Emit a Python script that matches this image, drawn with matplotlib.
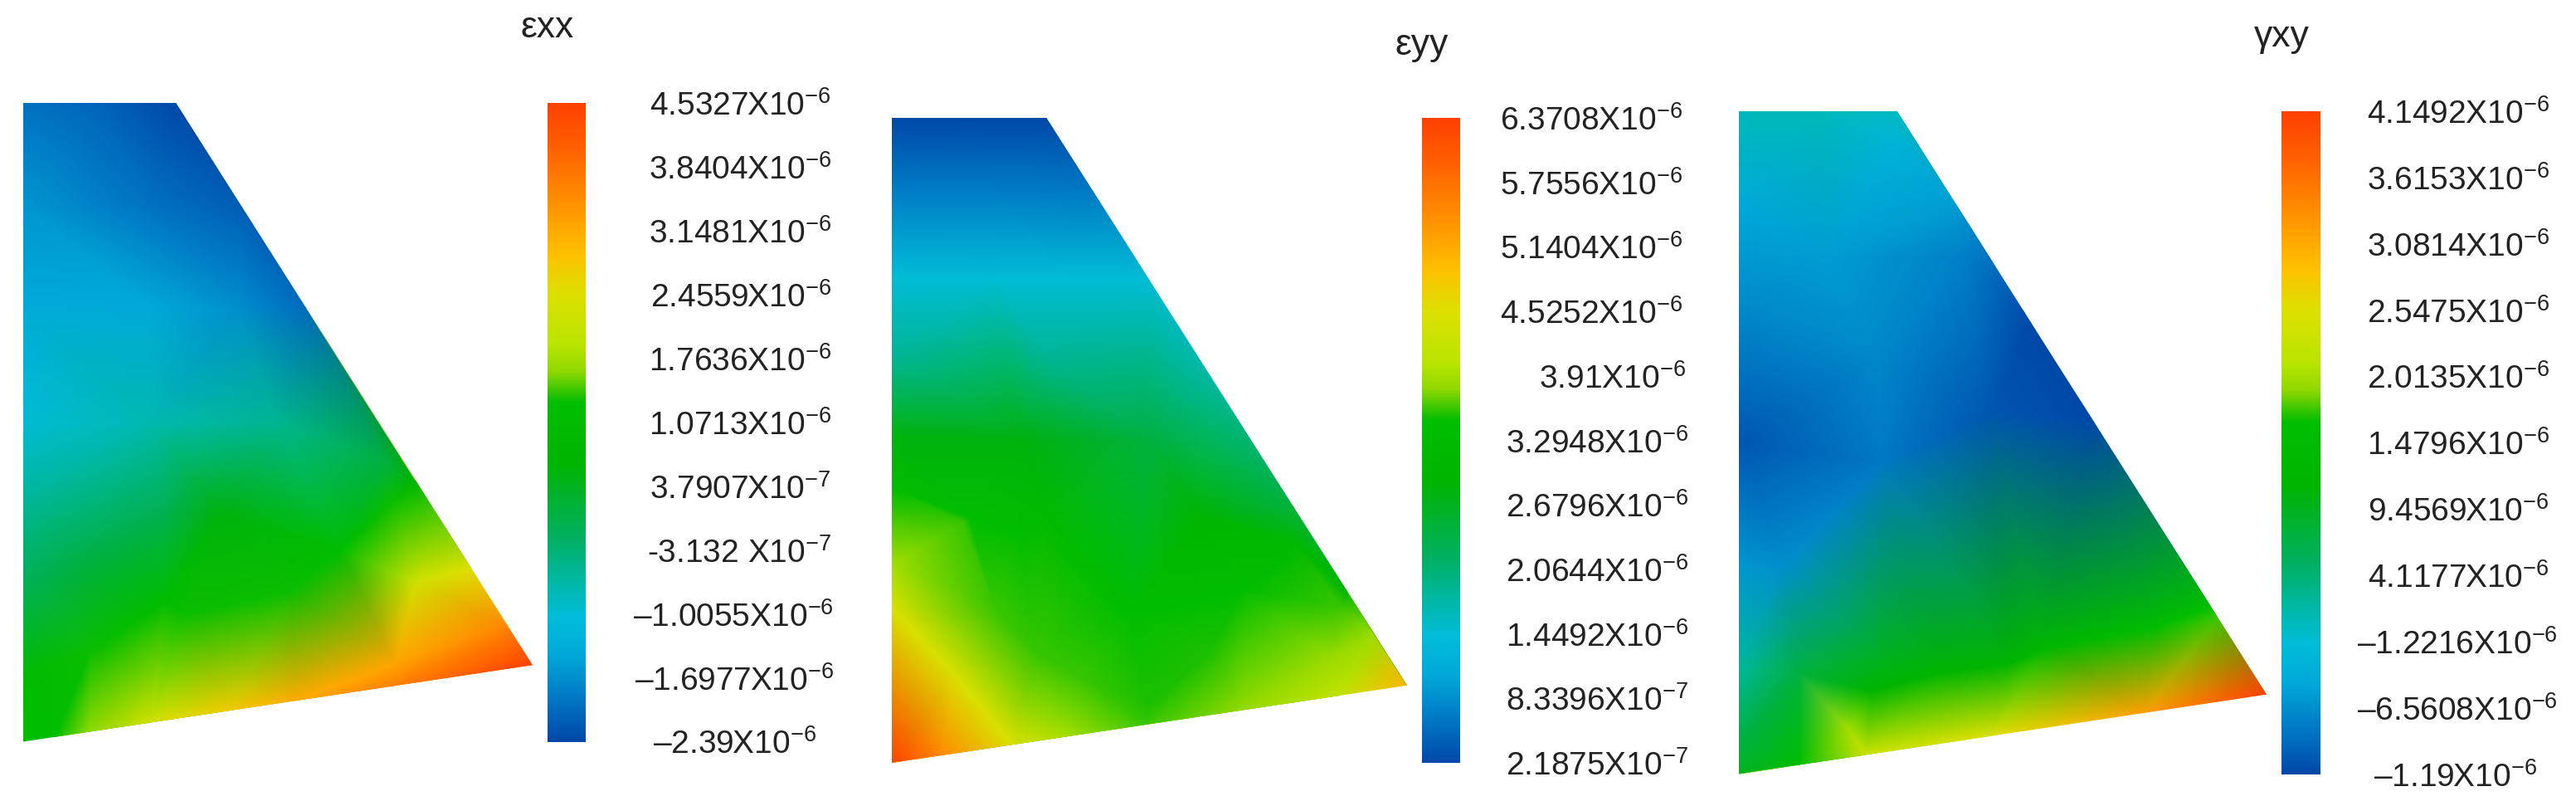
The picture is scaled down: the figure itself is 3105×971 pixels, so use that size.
import numpy as np
import matplotlib
matplotlib.use("Agg")
import matplotlib.pyplot as plt
from matplotlib.colors import LinearSegmentedColormap, Normalize
from matplotlib.patches import Polygon
from matplotlib.tri import Triangulation

plt.rcParams['font.family'] = ['Liberation Sans', 'DejaVu Sans']
plt.rcParams['mathtext.fontset'] = 'custom'
plt.rcParams['mathtext.rm'] = 'Liberation Sans'
plt.rcParams['mathtext.default'] = 'regular'

# ---- data ----
outline_x = [0, 300, 1000, 0]
outline_y = [1000, 1000, 120, 0]

titles = ['εxx', 'εyy', 'γxy']

exx_range = [-2.39, 4.5327]
exx_labels = ['4.5327X10$^{-6}$', '3.8404X10$^{-6}$', '3.1481X10$^{-6}$', '2.4559X10$^{-6}$',
              '1.7636X10$^{-6}$', '1.0713X10$^{-6}$', '3.7907X10$^{-7}$', '-3.132 X10$^{-7}$',
              '–1.0055X10$^{-6}$', '–1.6977X10$^{-6}$', '–2.39X10$^{-6}$']
exx_x = [0, 0, 0, 0, 0, 0, 0, 0, 150, 300, 430, 555, 770, 800, 880, 950, 1000,
         250, 500, 250, 420, 250, 277, 524, 320, 132, 62, 130, 256, 400, 535, 730, 725, 770, 730, 625,
         385, 710, 116, 277]
exx_y = [1000, 840, 680, 500, 380, 250, 100, 0, 1000, 1000, 837, 680, 409, 371, 271, 183, 120,
         500, 500, 680, 680, 840, 220, 236, 200, 139, 7, 16, 31, 48, 64, 88, 375, 250, 123, 300,
         356, 437, 276, 356]
exx_level = [.06, .11, .15, .20, .26, .33, .50, .53, .04, 0, .03, .05, .45, .55, .70, .86, 1.0,
             .24, .27, .14, .10, .06, .52, .535, .535, .535, .53, .58, .68, .74, .80, .87, .535, .67, .81, .53,
             .42, .36, .36, .34]

eyy_range = [0.21875, 6.3708]
eyy_labels = ['6.3708X10$^{-6}$', '5.7556X10$^{-6}$', '5.1404X10$^{-6}$', '4.5252X10$^{-6}$',
              '3.91X10$^{-6}$', '3.2948X10$^{-6}$', '2.6796X10$^{-6}$', '2.0644X10$^{-6}$',
              '1.4492X10$^{-6}$', '8.3396X10$^{-7}$', '2.1875X10$^{-7}$']
eyy_x = [0, 0, 0, 0, 0, 0, 0, 0, 0, 0, 150, 300, 390, 500, 620, 780, 884, 936, 1000,
         200, 200, 350, 300, 250, 500, 150, 300, 600, 138, 244, 200, 276, 117, 234, 490, 500, 370, 340, 616, 680, 870, 850, 870, 467, 680, 785, 100]
eyy_y = [1000, 880, 752, 625, 505, 425, 386, 306, 240, 0, 1000, 1000, 887, 750, 600, 399, 266, 200, 120,
         880, 752, 752, 625, 500, 500, 380, 380, 380, 373, 354, 240, 170, 140, 28, 59, 90, 130, 41, 170, 82, 242, 162, 104, 226, 266, 338, 12]
eyy_level = [0, .08, .20, .27, .42, .53, .55, .60, .69, 1.0, 0, 0, .07, .20, .25, .36, .46, .59, .78,
             .08, .20, .20, .27, .42, .36, .53, .50, .46, .55, .53, .55, .55, .69, .69, .55, .54, .55, .60, .54, .585, .55, .59, .64, .53, .53, .49, .85]

gxy_range = [-1.19, 4.1492]
gxy_labels = ['4.1492X10$^{-6}$', '3.6153X10$^{-6}$', '3.0814X10$^{-6}$', '2.5475X10$^{-6}$',
              '2.0135X10$^{-6}$', '1.4796X10$^{-6}$', '9.4569X10$^{-6}$', '4.1177X10$^{-6}$',
              '–1.2216X10$^{-6}$', '–6.5608X10$^{-6}$', '–1.19X10$^{-6}$']
gxy_x = [0, 0, 0, 0, 0, 0, 0, 0, 150, 300, 412, 475, 555, 672, 894, 907, 1000,
         260, 166, 426, 270, 478, 83, 790, 510, 270, 114, 250, 114, 208, 240, 374, 580, 478, 768, 300]
gxy_y = [1000, 858, 700, 500, 315, 160, 43, 0, 1000, 1000, 858, 780, 687, 532, 253, 237, 120,
         625, 780, 780, 470, 548, 315, 222, 167, 175, 152, 125, 14, 67, 29, 152, 190, 57, 92, 950]
gxy_level = [.23, .14, .09, .02, .11, .26, .36, .40, .23, .22, .12, .06, 0, 0, .53, .55, 1.0,
             .09, .12, .08, .07, .02, .10, .52, .45, .40, .36, .45, .52, .60, .66, .45, .47, .70, .82, .17]

# jet-like scale of the colour bars: position along the bar, colour
cbar_pos = [0, .056, .135, .197, .247, .32, .437, .530, .536, .58, .62, .70, .766, .845, .93, 1]
cbar_col = ['#0048A8', '#0070C0', '#00A8D8', '#00BCD8', '#00B8A8', '#00B060', '#00B400', '#00BE00',
            '#10BE00', '#90D800', '#B8E400', '#DDE000', '#FFBF00', '#FF9000', '#FF6000', '#FF4000']

# ---- layout, in pixels of the 3105x971 picture ----
W, H = 3105, 971
field_box = [(28, 124, 614, 769.5), (1075, 142, 621, 777), (2096, 134, 636, 798.5)]
bar_box = [(660, 124, 46, 769.5), (1713.5, 142, 46.5, 777), (2750, 134, 47, 798.5)]
title_pad = [57, 55, 56]
# distance from the right side of each bar to the right end of each label
label_gap = [
    [296, 296, 296, 296, 296, 296, 296, 296, 299, 299, 278],
    [268, 268, 268, 268, 272, 275, 275, 275, 275, 275, 275],
    [276, 276, 276, 276, 276, 276, 276, 276, 286, 286, 261],
]

cmap = LinearSegmentedColormap.from_list('bar', list(zip(cbar_pos, cbar_col)), N=512)


def axes_at(box):
    x, y, w, h = box
    return fig.add_axes([x / W, 1 - (y + h) / H, w / W, h / H])


fig = plt.figure(figsize=(W / 100, H / 100), dpi=100, facecolor='white')
panels = [(exx_x, exx_y, exx_level, exx_range, exx_labels),
          (eyy_x, eyy_y, eyy_level, eyy_range, eyy_labels),
          (gxy_x, gxy_y, gxy_level, gxy_range, gxy_labels)]

for i, (nx, ny, lev, rng, labels) in enumerate(panels):
    vmin, vmax = rng
    values = vmin + np.array(lev) * (vmax - vmin)
    ax = axes_at(field_box[i])
    ax.set_xlim(0, 1000)
    ax.set_ylim(0, 1000)
    ax.axis('off')
    tri = Triangulation(np.array(nx, float), np.array(ny, float))
    mesh = ax.tripcolor(tri, values, shading='gouraud', cmap=cmap, norm=Normalize(vmin, vmax))
    clip = Polygon(np.column_stack([outline_x, outline_y]), closed=True, transform=ax.transData,
                   fc='none', ec='none')
    ax.add_patch(clip)
    mesh.set_clip_path(clip)

    cax = axes_at(bar_box[i])
    ticks = np.linspace(vmax, vmin, len(labels))
    cb = fig.colorbar(mesh, cax=cax, ticks=ticks)
    cb.outline.set_visible(False)
    cb.ax.set_yticklabels(labels)
    cb.ax.tick_params(length=0, labelsize=28, labelcolor='#222222')
    for tick, lab, gap in zip(cb.ax.yaxis.get_major_ticks(), cb.ax.get_yticklabels(), label_gap[i]):
        tick.set_pad(gap * 0.72)
        lab.set_ha('right')
    cax.set_title(titles[i], x=0, y=1, pad=title_pad[i], fontsize=32, color='#222222', ha='center')

fig.savefig('out.png', dpi=100, facecolor='white')
